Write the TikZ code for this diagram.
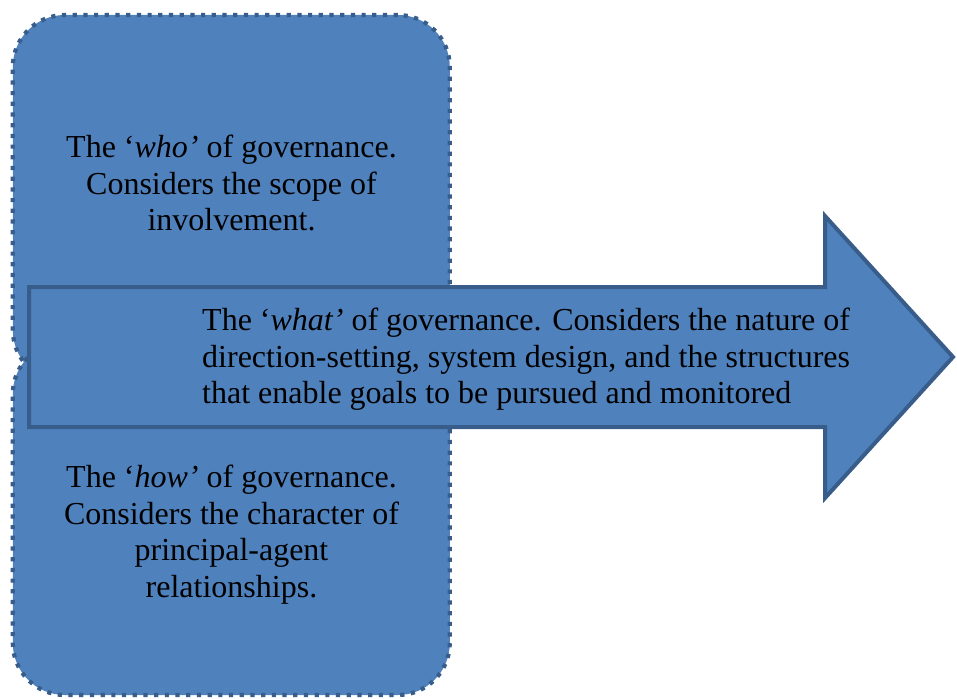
\documentclass[tikz,border=0pt]{standalone}
\usepackage{fontspec}
\setmainfont{Liberation Serif}
\definecolor{panelfill}{HTML}{4F81BD}
\definecolor{panelline}{HTML}{385D8A}
\begin{document}
\begin{tikzpicture}[x=1pt,y=-1pt,
  panel/.style={draw=panelline, fill=panelfill, line width=4.2pt,
    dash pattern=on 4.2pt off 6.5pt, rounded corners=52pt,
    minimum width=437pt, inner sep=0pt, outer sep=0pt},
  arrowbody/.style={draw=panelline, fill=panelfill, line width=4pt, line join=miter},
  caption/.style={font=\fontsize{32}{36.8}\selectfont, text=black, inner sep=0pt, align=center}]
\useasboundingbox (0,0) rectangle (957,698);

% two rounded panels, overlapping slightly
\node[panel, minimum height=367pt] (whopanel) at (231.3,198.5) {};
\node[panel, minimum height=353pt] (howpanel) at (231.3,518.5) {};

% block arrow across the middle
\coordinate (tip) at (953,357);
\draw[arrowbody] (29,287) -- (825,287) -- (825,216) -- (tip) -- (825,498)
  -- (825,427) -- (29,427) -- cycle;

% captions
\node[caption] (whotext) at (231.5,183)
  {The ‘\textit{who’} of governance.\\Considers the scope of\\involvement.};
\node[caption, align=left, anchor=west] (whattext) at (202,359.3)
  {The ‘\textit{what’} of governance. Considers the nature of\\
   direction-setting, system design, and the structures\\
   that enable goals to be pursued and monitored};
\node[caption] (howtext) at (231.5,534.7)
  {The ‘\textit{how’} of governance.\\Considers the character of\\principal-agent\\relationships.};
\end{tikzpicture}
\end{document}
